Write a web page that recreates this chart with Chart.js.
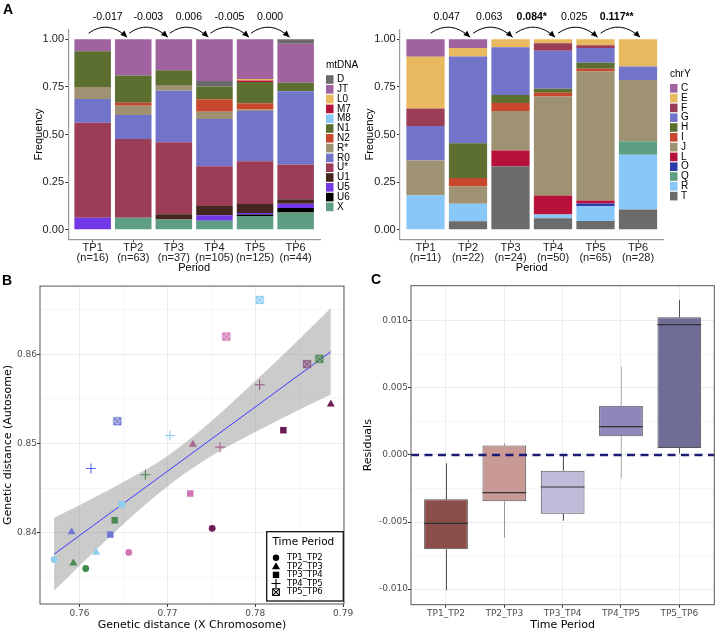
<!DOCTYPE html>
<html>
<head>
<meta charset="utf-8">
<script src="https://cdn.jsdelivr.net/npm/chart.js@4.4.1/dist/chart.umd.min.js"></script>
<style>
  html, body { margin: 0; padding: 0; background: #fff; }
  #wrap { position: relative; width: 716px; height: 631px; overflow: hidden; }
  #wrap canvas { position: absolute; }
  .tag { position: absolute; font: bold 14px "Liberation Sans", Arial, sans-serif; line-height: 14px; }
</style>
</head>
<body>
<div id="wrap">
  <canvas id="mtChart" width="360" height="280" style="left:0;top:0"></canvas>
  <canvas id="yChart" width="356" height="280" style="left:360px;top:0"></canvas>
  <canvas id="distChart" width="360" height="351" style="left:0;top:280px"></canvas>
  <canvas id="residChart" width="356" height="351" style="left:360px;top:280px"></canvas>
  <div class="tag" style="left:3px;top:2px">A</div>
  <div class="tag" style="left:2px;top:273px">B</div>
  <div class="tag" style="left:371px;top:272px">C</div>
</div>
<script>
const LS = "'Liberation Sans', Arial, sans-serif";
const DJ = "'DejaVu Sans', sans-serif";

// --- A: haplogroup frequencies per period ---
const periods = ['TP1', 'TP2', 'TP3', 'TP4', 'TP5', 'TP6'];
const nMt = [16, 63, 37, 105, 125, 44];
const nChrY = [11, 22, 24, 50, 65, 28];
const freqTicks = [0, 0.25, 0.5, 0.75, 1];

const mtGroups = ['D', 'JT', 'L0', 'M7', 'M8', 'N1', 'N2', 'R*', 'R0', 'U*', 'U1', 'U5', 'U6', 'X'];
const mtColors = ['#6b6b6b', '#a163a0', '#e8b95e', '#b8123a', '#88c8f8', '#5c6e30', '#c8482e',
                  '#9e9273', '#7274c9', '#9b3d57', '#45261f', '#7238e6', '#000000', '#5e9e82'];
const mt_D  = [0, 0, 0, 0, 0, 0.023];
const mt_JT = [0.063, 0.190, 0.162, 0.219, 0.208, 0.205];
const mt_L0 = [0, 0, 0, 0, 0.008, 0];
const mt_M7 = [0, 0, 0, 0, 0.008, 0];
const mt_M8 = [0, 0, 0, 0, 0, 0];
const mt_N1 = [0.188, 0.143, 0.081, 0.067, 0.112, 0.045];
const mt_N2 = [0, 0.016, 0, 0.067, 0.032, 0];
const mt_Rs = [0.063, 0.048, 0.027, 0.038, 0.008, 0];
const mt_R0 = [0.125, 0.127, 0.270, 0.248, 0.264, 0.386];
const mt_Us = [0.500, 0.413, 0.378, 0.210, 0.224, 0.182];
const mt_U1 = [0, 0, 0.027, 0.048, 0.048, 0.023];
const mt_U5 = [0.063, 0, 0, 0.029, 0.008, 0.023];
const mt_U6 = [0, 0, 0, 0, 0.008, 0.023];
const mt_X  = [0, 0.063, 0.054, 0.048, 0.072, 0.091];
// in TP4 the D block sits under JT, so it gets its own slice
const mt_D_TP4 = [0, 0, 0, 0.029, 0, 0];
const mtFst = ['-0.017', '-0.003', '0.006', '-0.005', '0.000'];

const yGroups = ['C', 'E', 'F', 'G', 'H', 'I', 'J', 'L', 'O', 'Q', 'R', 'T'];
const yColors = ['#a163a0', '#e8b95e', '#9b3d57', '#7274c9', '#5c6e30', '#c8482e',
                 '#9e9273', '#b8123a', '#2b3ba8', '#5e9e82', '#88c8f8', '#6b6b6b'];
const y_C = [0.091, 0.045, 0, 0, 0, 0];
const y_E = [0.273, 0.045, 0.042, 0.020, 0.031, 0.143];
const y_F = [0.091, 0, 0, 0.040, 0.015, 0];
const y_G = [0.182, 0.455, 0.250, 0.200, 0.077, 0.071];
const y_H = [0, 0.182, 0.042, 0.020, 0.031, 0];
const y_I = [0, 0.045, 0.042, 0.020, 0.015, 0];
const y_J = [0.182, 0.091, 0.208, 0.520, 0.677, 0.321];
const y_L = [0, 0, 0.083, 0.100, 0.015, 0];
const y_O = [0, 0, 0, 0, 0.015, 0];
const y_Q = [0, 0, 0, 0, 0, 0.071];
const y_R = [0.182, 0.091, 0, 0.020, 0.077, 0.286];
const y_T = [0, 0.045, 0.333, 0.060, 0.046, 0.107];
const yFst = ['0.047', '0.063', '0.084*', '0.025', '0.117**'];

// --- B: genetic distances (X chromosome vs autosome) ---
const pairLabels = ['TP1_TP2', 'TP2_TP3', 'TP3_TP4', 'TP4_TP5', 'TP5_TP6'];
const LB = '#8ecdee', GR = '#4a8a52', BL = '#7079d2', PK = '#d275b5', MV = '#a7678f', DP = '#6d1d55', DM = '#8a5a80';
const tp12_x = [0.7571, 0.7607, 0.7656, 0.7751];
const tp12_y = [0.8370, 0.8360, 0.8378, 0.8405];
const tp12_c = [LB, '#3f8a47', PK, DP];
const tp23_x = [0.7591, 0.7619, 0.7593, 0.7729, 0.7886];
const tp23_y = [0.8401, 0.8378, 0.8366, 0.8499, 0.8544];
const tp23_c = [BL, LB, GR, MV, DP];
const tp34_x = [0.7726, 0.7648, 0.7640, 0.7635, 0.7832];
const tp34_y = [0.8444, 0.8432, 0.8414, 0.8398, 0.8515];
const tp34_c = [PK, LB, GR, BL, DP];
const tp45_x = [0.7613, 0.7703, 0.7675, 0.7760, 0.7805];
const tp45_y = [0.8472, 0.8509, 0.8465, 0.8496, 0.8566];
const tp45_c = ['#5b6cf0', LB, GR, MV, DM];
const tp56_x = [0.7805, 0.7767, 0.7859, 0.7873, 0.7643];
const tp56_y = [0.8661, 0.8620, 0.8589, 0.8595, 0.8525];
const tp56_c = [LB, PK, DM, GR, BL];
const fitX = [0.7571, 0.7886];
const fitY = [0.8376, 0.8603];
const bandX    = [0.7571, 0.760, 0.765, 0.770, 0.775, 0.780, 0.785, 0.7886];
const bandHigh = [0.8417, 0.8431, 0.8457, 0.8486, 0.8525, 0.8570, 0.8617, 0.8652];
const bandLow  = [0.8335, 0.8363, 0.8410, 0.8452, 0.8486, 0.8513, 0.8538, 0.8555];
const xTicksB = [0.76, 0.765, 0.77, 0.775, 0.78, 0.785, 0.79];
const yTicksB = [0.835, 0.84, 0.845, 0.85, 0.855, 0.86, 0.865];

// --- C: residuals per time period ---
const whiskLow  = [-0.0101, -0.00617, -0.0049, -0.00174, 0.00012];
const q1        = [-0.00704, -0.00346, -0.00438, 0.00139, 0.00052];
const medians   = [-0.0051, -0.00281, -0.00239, 0.00211, 0.00973];
const q3        = [-0.00331, 0.0007, -0.00117, 0.00368, 0.01028];
const whiskHigh = [-0.00062, 0.00087, 0.0, 0.00659, 0.01157];
const boxColors = ['#8b4e4b', '#c99a95', '#bebcd8', '#8e88ba', '#6f6c98'];
const whiskColors = ['#555', '#999', '#555', '#bbb', '#555'];
const yTicksC = [-0.01, -0.0075, -0.005, -0.0025, 0, 0.0025, 0.005, 0.0075, 0.01];

// --- helpers ---
function nearMult(v, step) {
  const k = v / step;
  return Math.abs(k - Math.round(k)) < 1e-6;
}

function fillDatasets(rows) {
  // like position = "fill": each bar sums to 1; first dataset stacks at the bottom
  const sums = periods.map((p, i) => rows.reduce((s, r) => s + r.vals[i], 0));
  return rows.slice().reverse().map(r => ({
    label: r.label,
    data: r.vals.map((v, i) => ({ x: i + 1, y: v / sums[i] })),
    backgroundColor: r.color,
    borderWidth: 0,
    barPercentage: 0.9,
    categoryPercentage: 1
  }));
}

function fstArrows(fst, lay) {
  return {
    id: 'fstArrows',
    afterDraw(chart) {
      const { ctx, scales: { x, y } } = chart;
      ctx.save();
      fst.forEach((txt, i) => {
        const x0 = x.getPixelForValue(i + 1 + lay.startOff);
        const x1 = x.getPixelForValue(i + 2 + lay.endOff);
        const y0 = y.getPixelForValue(1.032);
        const y1 = y.getPixelForValue(1.011);
        const yc = y.getPixelForValue(1.105);
        const xc = (x0 + x1) / 2;
        ctx.strokeStyle = '#000';
        ctx.fillStyle = '#000';
        ctx.lineWidth = 1;
        ctx.beginPath();
        ctx.moveTo(x0, y0);
        ctx.quadraticCurveTo(xc, yc, x1, y1);
        ctx.stroke();
        const a = Math.atan2(y1 - yc, x1 - xc);
        const len = 6.5, hw = 3;
        ctx.beginPath();
        ctx.moveTo(x1, y1);
        ctx.lineTo(x1 - len * Math.cos(a) + hw * Math.sin(a), y1 - len * Math.sin(a) - hw * Math.cos(a));
        ctx.lineTo(x1 - len * Math.cos(a) - hw * Math.sin(a), y1 - len * Math.sin(a) + hw * Math.cos(a));
        ctx.closePath();
        ctx.fill();
        const bold = txt.includes('*');
        ctx.font = (bold ? 'bold ' : '') + '10.5px ' + LS;
        ctx.textAlign = 'center';
        ctx.textBaseline = 'middle';
        ctx.fillText(txt, x.getPixelForValue(i + 1 + lay.textOff), y.getPixelForValue(1.119));
      });
      ctx.restore();
    }
  };
}

function keyLegend(title, groups, colors, lay) {
  return {
    id: 'keyLegend',
    afterDraw(chart) {
      const ctx = chart.ctx;
      ctx.save();
      ctx.fillStyle = '#000';
      ctx.textBaseline = 'middle';
      ctx.textAlign = 'left';
      ctx.font = '10px ' + LS;
      ctx.fillText(title, lay.legX, lay.legTitleY);
      groups.forEach((g, k) => {
        const cy = lay.legY0 + k * 9.8;
        ctx.fillStyle = colors[k];
        ctx.fillRect(lay.legX, cy - 4.3, 7.5, 8.6);
        ctx.fillStyle = '#000';
        ctx.fillText(g, lay.legX + 11, cy);
      });
      ctx.restore();
    }
  };
}

function freqChart(id, rows, ns, fst, title, groups, colors, lay) {
  return new Chart(document.getElementById(id), {
    type: 'bar',
    data: { datasets: fillDatasets(rows) },
    options: {
      responsive: false,
      animation: false,
      devicePixelRatio: 1,
      layout: { padding: { left: 0, top: 29.8, right: lay.right, bottom: 0 } },
      plugins: { legend: { display: false }, tooltip: { enabled: false } },
      scales: {
        x: {
          type: 'linear', stacked: true, min: 0.4, max: 6.6, offset: false,
          afterBuildTicks: s => { s.ticks = periods.map((p, i) => ({ value: i + 1 })); },
          afterFit: s => { s.height = 40.7; },
          ticks: {
            callback: v => [periods[v - 1], '(n=' + ns[v - 1] + ')'],
            font: { family: LS, size: 11, lineHeight: 0.96 }, color: '#222',
            padding: 0, maxRotation: 0, autoSkip: false
          },
          grid: { display: true, offset: false, drawOnChartArea: false, drawTicks: true, tickLength: 3, tickColor: '#333', tickWidth: 1 },
          border: { display: true, color: '#9a9a9a', width: 1.2 },
          title: { display: true, text: 'Period', color: '#000', font: { family: LS, size: 11, lineHeight: 1.2 }, padding: { top: 0, bottom: 5.1 } }
        },
        y: {
          stacked: true, min: -0.05, max: 1.05,
          afterBuildTicks: s => { s.ticks = freqTicks.map(v => ({ value: v })); },
          afterFit: s => { s.width = lay.yw; },
          ticks: { callback: v => v.toFixed(2), font: { family: LS, size: 11 }, color: '#222', padding: 1.3 },
          grid: { display: true, drawOnChartArea: false, drawTicks: true, tickLength: 3, tickColor: '#333', tickWidth: 1 },
          border: { display: true, color: '#9a9a9a', width: 1.2 },
          title: { display: true, text: 'Frequency', color: '#000', font: { family: LS, size: 11, lineHeight: 1.2 }, padding: { top: lay.titlePad, bottom: 0 } }
        }
      }
    },
    plugins: [fstArrows(fst, lay), keyLegend(title, groups, colors, lay)]
  });
}

// --- A left: mtDNA ---
const mtSeries = [mt_D, mt_JT, mt_L0, mt_M7, mt_M8, mt_N1, mt_N2, mt_Rs, mt_R0, mt_Us, mt_U1, mt_U5, mt_U6, mt_X];
const mtRows = mtGroups.map((g, k) => ({ label: g, color: mtColors[k], vals: mtSeries[k] }));
mtRows.splice(2, 0, { label: 'D', color: mtColors[0], vals: mt_D_TP4 });
freqChart('mtChart', mtRows, nMt, mtFst, 'mtDNA', mtGroups, mtColors, {
  right: 40, yw: 68.3, titlePad: 32.4, textOff: 0.37, startOff: -0.1, endOff: -0.15,
  legX: 326, legTitleY: 65, legY0: 79.5
});

// --- A right: chrY ---
const ySeries = [y_C, y_E, y_F, y_G, y_H, y_I, y_J, y_L, y_O, y_Q, y_R, y_T];
const yRows = yGroups.map((g, k) => ({ label: g, color: yColors[k], vals: ySeries[k] }));
freqChart('yChart', yRows, nChrY, yFst, 'chrY', yGroups, yColors, {
  right: 52.5, yw: 40, titlePad: 3.4, textOff: 0.5, startOff: 0.12, endOff: 0.05,
  legX: 310, legTitleY: 74.3, legY0: 88.3
});

// --- B: scatter ---
function boxCross(color) {
  const c = document.createElement('canvas');
  c.width = 10; c.height = 10;
  const g = c.getContext('2d');
  g.globalAlpha = 0.3;
  g.fillStyle = color;
  g.fillRect(1, 1, 8, 8);
  g.globalAlpha = 1;
  g.strokeStyle = color;
  g.lineWidth = 1.2;
  g.strokeRect(1.5, 1.5, 7, 7);
  g.beginPath();
  g.moveTo(1.5, 1.5); g.lineTo(8.5, 8.5);
  g.moveTo(8.5, 1.5); g.lineTo(1.5, 8.5);
  g.stroke();
  return c;
}

function pts(xs, ys) {
  return xs.map((x, i) => ({ x, y: ys[i] }));
}

function panelBorder(color) {
  return {
    id: 'panelBorder',
    afterDraw(chart) {
      const { ctx, chartArea: a } = chart;
      ctx.save();
      ctx.strokeStyle = color;
      ctx.lineWidth = 1;
      ctx.strokeRect(a.left, a.top, a.right - a.left, a.bottom - a.top);
      ctx.restore();
    }
  };
}

const shapeLegend = {
  id: 'shapeLegend',
  afterDraw(chart) {
    const ctx = chart.ctx;
    ctx.save();
    ctx.fillStyle = '#fff';
    ctx.fillRect(266.7, 251.7, 76.6, 69.3);
    ctx.strokeStyle = '#111';
    ctx.lineWidth = 1.3;
    ctx.strokeRect(266.7, 251.7, 76.6, 69.3);
    ctx.fillStyle = '#000';
    ctx.textBaseline = 'middle';
    ctx.textAlign = 'left';
    ctx.font = '10.5px ' + DJ;
    ctx.fillText('Time Period', 272.5, 262.3);
    ctx.font = '8.5px ' + DJ;
    pairLabels.forEach((lab, i) => {
      const cx = 276, cy = 277.7 + i * 8.6;
      ctx.fillStyle = '#000';
      ctx.strokeStyle = '#000';
      ctx.lineWidth = 1.1;
      ctx.beginPath();
      if (i === 0) {
        ctx.arc(cx, cy, 3.2, 0, Math.PI * 2); ctx.fill();
      } else if (i === 1) {
        ctx.moveTo(cx, cy - 4); ctx.lineTo(cx + 4, cy + 3); ctx.lineTo(cx - 4, cy + 3); ctx.closePath(); ctx.fill();
      } else if (i === 2) {
        ctx.fillRect(cx - 3.2, cy - 3.2, 6.4, 6.4);
      } else if (i === 3) {
        ctx.moveTo(cx - 4.5, cy); ctx.lineTo(cx + 4.5, cy); ctx.moveTo(cx, cy - 4.5); ctx.lineTo(cx, cy + 4.5); ctx.stroke();
      } else {
        ctx.strokeRect(cx - 3.3, cy - 3.3, 6.6, 6.6);
        ctx.moveTo(cx - 3.3, cy - 3.3); ctx.lineTo(cx + 3.3, cy + 3.3);
        ctx.moveTo(cx + 3.3, cy - 3.3); ctx.lineTo(cx - 3.3, cy + 3.3); ctx.stroke();
      }
      ctx.fillText(lab, 287, cy);
    });
    ctx.restore();
  }
};

const gridB = {
  color: '#ebebeb',
  lineWidth: c => (c.tick && nearMult(c.tick.value, 0.01)) ? 1 : 0.5,
  tickColor: c => (c.tick && nearMult(c.tick.value, 0.01)) ? '#333' : 'rgba(0,0,0,0)',
  tickLength: 3,
  drawTicks: true
};

new Chart(document.getElementById('distChart'), {
  type: 'scatter',
  data: {
    datasets: [
      { label: pairLabels[0], data: pts(tp12_x, tp12_y), pointStyle: 'circle', pointRadius: 3.4,
        backgroundColor: tp12_c, borderColor: tp12_c, borderWidth: 0, order: 0 },
      { label: pairLabels[1], data: pts(tp23_x, tp23_y), pointStyle: 'triangle', pointRadius: 4.6,
        backgroundColor: tp23_c, borderColor: tp23_c, borderWidth: 0, order: 1 },
      { label: pairLabels[2], data: pts(tp34_x, tp34_y), pointStyle: 'rect', pointRadius: 4.6,
        backgroundColor: tp34_c, borderColor: tp34_c, borderWidth: 0, order: 2 },
      { label: pairLabels[3], data: pts(tp45_x, tp45_y), pointStyle: 'cross', pointRadius: 5,
        backgroundColor: tp45_c, borderColor: tp45_c, borderWidth: 1.1, order: 3 },
      { label: pairLabels[4], data: pts(tp56_x, tp56_y), pointStyle: tp56_c.map(boxCross), pointRadius: 4,
        backgroundColor: tp56_c, borderColor: tp56_c, order: 4 },
      { type: 'line', label: 'fit', data: pts(fitX, fitY), borderColor: '#3a3aff', borderWidth: 1,
        pointRadius: 0, fill: false, order: 5 },
      { type: 'line', label: 'band high', data: pts(bandX, bandHigh), borderWidth: 0, pointRadius: 0,
        cubicInterpolationMode: 'monotone', fill: '+1', backgroundColor: 'rgba(140,140,140,0.45)', order: 6 },
      { type: 'line', label: 'band low', data: pts(bandX, bandLow), borderWidth: 0, pointRadius: 0,
        cubicInterpolationMode: 'monotone', fill: false, order: 7 }
    ]
  },
  options: {
    responsive: false,
    animation: false,
    devicePixelRatio: 1,
    layout: { padding: { left: 0, top: 5.7, right: 16, bottom: 0 } },
    plugins: { legend: { display: false }, tooltip: { enabled: false } },
    scales: {
      x: {
        type: 'linear', min: 0.7555, max: 0.7901,
        afterBuildTicks: s => { s.ticks = xTicksB.map(v => ({ value: v })); },
        afterFit: s => { s.height = 27; },
        ticks: { callback: v => nearMult(v, 0.01) ? v.toFixed(2) : '', font: { family: DJ, size: 9 }, color: '#4d4d4d',
                 padding: 0.9, maxRotation: 0, autoSkip: false },
        grid: gridB,
        border: { display: false },
        title: { display: true, text: 'Genetic distance (X Chromosome)', color: '#000',
                 font: { family: DJ, size: 11, lineHeight: 1 }, padding: { top: 0, bottom: 0 } }
      },
      y: {
        type: 'linear', min: 0.83202, max: 0.86765,
        afterBuildTicks: s => { s.ticks = yTicksB.map(v => ({ value: v })); },
        afterFit: s => { s.width = 40; },
        ticks: { callback: v => nearMult(v, 0.01) ? v.toFixed(2) : '', font: { family: DJ, size: 9 }, color: '#4d4d4d',
                 padding: 0, autoSkip: false },
        grid: gridB,
        border: { display: false },
        title: { display: true, text: 'Genetic distance (Autosome)', color: '#000',
                 font: { family: DJ, size: 11, lineHeight: 1 }, padding: { top: 3, bottom: 0 } }
      }
    }
  },
  plugins: [panelBorder('#555'), shapeLegend]
});

// --- C: boxplots (box = floating bar, whiskers and medians drawn on the scales) ---
const boxParts = {
  id: 'boxParts',
  beforeDatasetsDraw(chart) {
    const { ctx, scales: { x, y } } = chart;
    ctx.save();
    ctx.lineWidth = 1;
    whiskLow.forEach((lo, i) => {
      const px = Math.round(x.getPixelForValue(i + 1)) + 0.5;
      ctx.strokeStyle = whiskColors[i];
      ctx.beginPath();
      ctx.moveTo(px, y.getPixelForValue(lo));
      ctx.lineTo(px, y.getPixelForValue(q1[i]));
      ctx.moveTo(px, y.getPixelForValue(q3[i]));
      ctx.lineTo(px, y.getPixelForValue(whiskHigh[i]));
      ctx.stroke();
    });
    ctx.restore();
  },
  afterDatasetsDraw(chart) {
    const { ctx, chartArea: a, scales: { x, y } } = chart;
    ctx.save();
    ctx.strokeStyle = '#333';
    ctx.lineWidth = 1.2;
    medians.forEach((m, i) => {
      const py = y.getPixelForValue(m);
      ctx.beginPath();
      ctx.moveTo(x.getPixelForValue(i + 1 - 0.375), py);
      ctx.lineTo(x.getPixelForValue(i + 1 + 0.375), py);
      ctx.stroke();
    });
    const zy = y.getPixelForValue(0);
    ctx.strokeStyle = '#1b1b76';
    ctx.lineWidth = 2.6;
    ctx.setLineDash([8, 5.5]);
    ctx.beginPath();
    ctx.moveTo(a.left, zy);
    ctx.lineTo(a.right, zy);
    ctx.stroke();
    ctx.restore();
  }
};

new Chart(document.getElementById('residChart'), {
  type: 'bar',
  data: {
    datasets: [{
      label: 'residuals',
      data: q1.map((v, i) => ({ x: i + 1, y: [v, q3[i]] })),
      backgroundColor: boxColors,
      borderColor: '#555',
      borderWidth: 1,
      borderSkipped: false,
      barPercentage: 0.75,
      categoryPercentage: 1
    }]
  },
  options: {
    responsive: false,
    animation: false,
    devicePixelRatio: 1,
    layout: { padding: { left: 0, top: 5.7, right: 1.7, bottom: 0 } },
    plugins: { legend: { display: false }, tooltip: { enabled: false } },
    scales: {
      x: {
        type: 'linear', min: 0.4, max: 5.6, offset: false,
        afterBuildTicks: s => { s.ticks = pairLabels.map((p, i) => ({ value: i + 1 })); },
        afterFit: s => { s.height = 26.3; },
        ticks: { callback: v => pairLabels[v - 1], font: { family: DJ, size: 9 }, color: '#4d4d4d',
                 padding: 0.9, maxRotation: 0, autoSkip: false },
        grid: { color: '#ebebeb', lineWidth: 1, offset: false, tickLength: 3, tickColor: '#333' },
        border: { display: false },
        title: { display: true, text: 'Time Period', color: '#000',
                 font: { family: DJ, size: 11, lineHeight: 1 }, padding: { top: 0, bottom: 0.5 } }
      },
      y: {
        type: 'linear', min: -0.01117, max: 0.01263,
        afterBuildTicks: s => { s.ticks = yTicksC.map(v => ({ value: v })); },
        afterFit: s => { s.width = 51; },
        ticks: { callback: v => nearMult(v, 0.005) ? v.toFixed(3) : '', font: { family: DJ, size: 9 }, color: '#4d4d4d',
                 padding: 0, autoSkip: false },
        grid: {
          color: '#ebebeb',
          lineWidth: c => (c.tick && nearMult(c.tick.value, 0.005)) ? 1 : 0.5,
          tickColor: c => (c.tick && nearMult(c.tick.value, 0.005)) ? '#333' : 'rgba(0,0,0,0)',
          tickLength: 3
        },
        border: { display: false },
        title: { display: true, text: 'Residuals', color: '#000',
                 font: { family: DJ, size: 11, lineHeight: 1 }, padding: { top: 2.8, bottom: 0 } }
      }
    }
  },
  plugins: [boxParts, panelBorder('#555')]
});
</script>
</body>
</html>
